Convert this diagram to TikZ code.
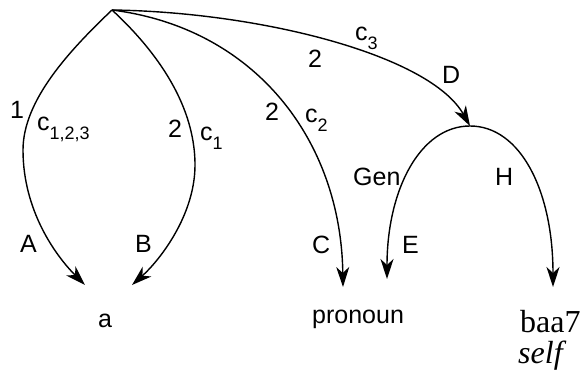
\documentclass[tikz,border=0pt]{standalone}
\usepackage{fontspec}
\setmainfont{Liberation Sans}
\newfontfamily\serifface{Liberation Serif}
\usetikzlibrary{arrows.meta}
\newcommand\lbsub[1]{\raisebox{-9pt}{\fontsize{18}{18}\selectfont #1}}
\tikzset{
  arr/.style={line width=1.4pt, -{Stealth[length=20pt,width=13pt,inset=6pt]}},
  lab/.style={inner sep=0pt, anchor=base west, font=\fontsize{25}{29}\selectfont},
  ser/.style={inner sep=0pt, anchor=base west, font=\fontsize{32}{36}\selectfont\serifface},
}
\begin{document}
\begin{tikzpicture}[x=1pt,y=-1pt]
\useasboundingbox (0,0) rectangle (583,370);
% anchor points
\coordinate (root) at (112,10);
\coordinate (top) at (470,126);
\coordinate (tA) at (85,285);
\coordinate (tB) at (132,285);
\coordinate (tC) at (343,287);
\coordinate (tE) at (387,279);
\coordinate (tH) at (553,287);
% target words
\node[lab] (a) at (98,327) {a};
\node[lab] (pronoun) at (312,323) {pronoun};
\node[ser] (baa) at (520,332) {baa7};
\node[ser] (self) at (518,363) {\itshape self};
% connectors
\draw[arr] (root) .. controls (70,50) and (23,100) .. (23,150)
                  .. controls (23,210) and (55,255) .. (tA);
\draw[arr] (root) .. controls (150,45) and (195,100) .. (195,165)
                  .. controls (195,215) and (160,260) .. (tB);
\draw[arr] (root) .. controls (255,28) and (341,140) .. (tC);
\draw[arr] (root) .. controls (260,12) and (430,55) .. (top);
\draw[arr] (top) .. controls (420,126) and (387,190) .. (tE);
\draw[arr] (top) .. controls (520,126) and (553,190) .. (tH);
% labels
\node[lab] (l1) at (10,118) {1};
\node[lab] (lc123) at (37,130) {c\lbsub{1,2,3}};
\node[lab] (l2a) at (168,137) {2};
\node[lab] (lc1) at (200,140) {c\lbsub{1}};
\node[lab] (l2b) at (265,120) {2};
\node[lab] (lc2) at (305,122) {c\lbsub{2}};
\node[lab] (l2c) at (308,67) {2};
\node[lab] (lc3) at (355,40) {c\lbsub{3}};
\node[lab] (lD) at (442,83) {D};
\node[lab] (lGen) at (353,185) {Gen};
\node[lab] (lH) at (495,185) {H};
\node[lab] (lA) at (20,252) {A};
\node[lab] (lB) at (135,252) {B};
\node[lab] (lC) at (312,253) {C};
\node[lab] (lE) at (402,253) {E};
\end{tikzpicture}
\end{document}
